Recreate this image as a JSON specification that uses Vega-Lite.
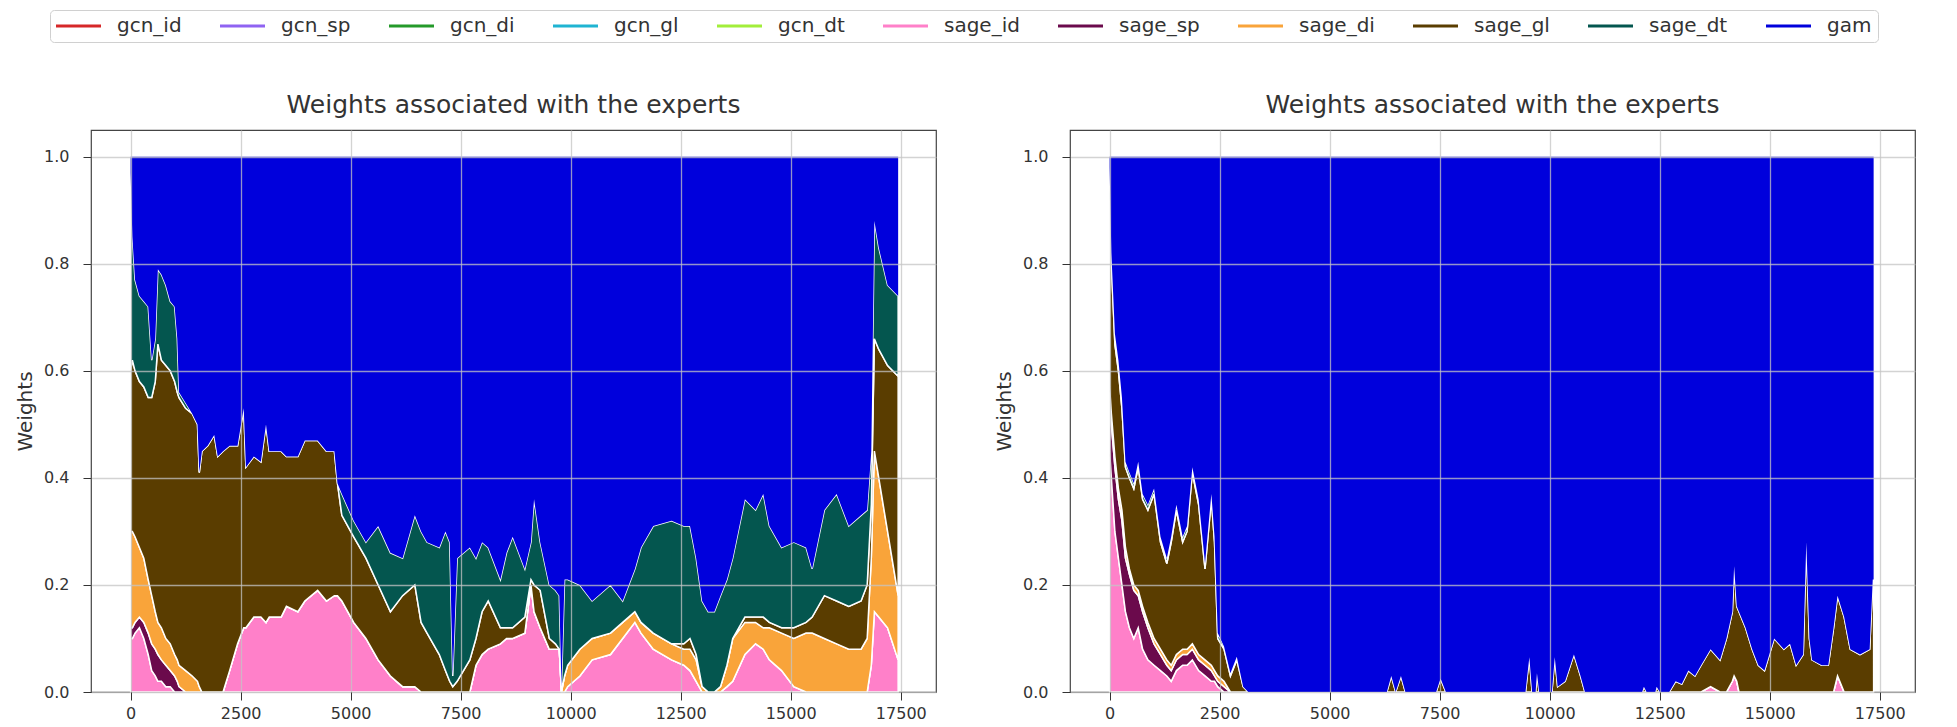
{
 "$schema": "https://vega.github.io/schema/vega-lite/v6.json",
 "padding": {"left": 14, "top": 9, "right": 5, "bottom": 0},
 "bounds": "flush",
 "spacing": 134,
 "config": {
  "view": {"stroke": "#444", "strokeWidth": 1.2},
  "axis": {"labelFont": "DejaVu Sans", "labelFontSize": 16, "labelColor": "#333", "titleFont": "DejaVu Sans", "titleFontSize": 20, "titleFontWeight": "normal", "titleColor": "#333", "tickColor": "#333", "tickSize": 8, "domain": false, "gridColor": "#c4c4c4", "gridOpacity": 0.75, "gridWidth": 1.3},
  "title": {"font": "DejaVu Sans", "fontSize": 25, "fontWeight": "normal", "color": "#333", "anchor": "middle", "offset": 12}
 },
 "datasets": {
  "meta": [
   {"series": "gcn_id", "k": 0}, {"series": "gcn_sp", "k": 1}, {"series": "gcn_di", "k": 2}, {"series": "gcn_gl", "k": 3}, {"series": "gcn_dt", "k": 4},
   {"series": "sage_id", "k": 5}, {"series": "sage_sp", "k": 6}, {"series": "sage_di", "k": 7}, {"series": "sage_gl", "k": 8}, {"series": "sage_dt", "k": 9}, {"series": "gam", "k": 10}
  ],
  "left": [
   {"t":0,"sage_id":0.1,"sage_sp":0.02,"sage_di":0.18,"sage_gl":0.3,"sage_dt":0.37,"gam":0.03},
   {"t":40,"sage_id":0.1,"sage_sp":0.02,"sage_di":0.18,"sage_gl":0.32,"sage_dt":0.23,"gam":0.15},
   {"t":100,"sage_id":0.11,"sage_sp":0.02,"sage_di":0.16,"sage_gl":0.31,"sage_dt":0.17,"gam":0.23},
   {"t":200,"sage_id":0.12,"sage_sp":0.02,"sage_di":0.13,"sage_gl":0.31,"sage_dt":0.16,"gam":0.26},
   {"t":300,"sage_id":0.1,"sage_sp":0.03,"sage_di":0.12,"sage_gl":0.32,"sage_dt":0.16,"gam":0.27},
   {"t":400,"sage_id":0.07,"sage_sp":0.04,"sage_di":0.1,"sage_gl":0.34,"sage_dt":0.17,"gam":0.28},
   {"t":480,"sage_id":0.04,"sage_sp":0.05,"sage_di":0.09,"sage_gl":0.37,"sage_dt":0.07,"gam":0.38},
   {"t":560,"sage_id":0.03,"sage_sp":0.05,"sage_di":0.07,"sage_gl":0.43,"sage_dt":0.08,"gam":0.34},
   {"t":620,"sage_id":0.02,"sage_sp":0.05,"sage_di":0.06,"sage_gl":0.52,"sage_dt":0.14,"gam":0.21},
   {"t":700,"sage_id":0.02,"sage_sp":0.04,"sage_di":0.06,"sage_gl":0.5,"sage_dt":0.16,"gam":0.22},
   {"t":800,"sage_id":0.01,"sage_sp":0.04,"sage_di":0.05,"sage_gl":0.51,"sage_dt":0.15,"gam":0.24},
   {"t":900,"sage_id":0.01,"sage_sp":0.03,"sage_di":0.05,"sage_gl":0.51,"sage_dt":0.13,"gam":0.27},
   {"t":1000,"sage_id":0,"sage_sp":0.03,"sage_di":0.04,"sage_gl":0.51,"sage_dt":0.14,"gam":0.28},
   {"t":1060,"sage_id":0,"sage_sp":0.02,"sage_di":0.04,"sage_gl":0.5,"sage_dt":0.1,"gam":0.34},
   {"t":1100,"sage_id":0,"sage_sp":0.01,"sage_di":0.04,"sage_gl":0.5,"sage_dt":0.01,"gam":0.44},
   {"t":1250,"sage_id":0,"sage_sp":0,"sage_di":0.04,"sage_gl":0.49,"sage_dt":0.01,"gam":0.46},
   {"t":1400,"sage_id":0,"sage_sp":0,"sage_di":0.03,"sage_gl":0.49,"sage_dt":0,"gam":0.48},
   {"t":1520,"sage_id":0,"sage_sp":0,"sage_di":0.02,"sage_gl":0.48,"sage_dt":0,"gam":0.5},
   {"t":1560,"sage_id":0,"sage_sp":0,"sage_di":0.01,"sage_gl":0.4,"sage_dt":0,"gam":0.59},
   {"t":1620,"sage_id":0,"sage_sp":0,"sage_di":0,"sage_gl":0.45,"sage_dt":0,"gam":0.55},
   {"t":1750,"sage_id":0,"sage_sp":0,"sage_di":0,"sage_gl":0.46,"sage_dt":0,"gam":0.54},
   {"t":1900,"sage_id":0,"sage_sp":0,"sage_di":0,"sage_gl":0.48,"sage_dt":0,"gam":0.52},
   {"t":1980,"sage_id":0,"sage_sp":0,"sage_di":0,"sage_gl":0.44,"sage_dt":0,"gam":0.56},
   {"t":2100,"sage_id":0,"sage_sp":0,"sage_di":0,"sage_gl":0.45,"sage_dt":0,"gam":0.55},
   {"t":2250,"sage_id":0.04,"sage_sp":0,"sage_di":0,"sage_gl":0.42,"sage_dt":0,"gam":0.54},
   {"t":2430,"sage_id":0.09,"sage_sp":0,"sage_di":0,"sage_gl":0.37,"sage_dt":0,"gam":0.54},
   {"t":2570,"sage_id":0.12,"sage_sp":0,"sage_di":0,"sage_gl":0.41,"sage_dt":0,"gam":0.47},
   {"t":2620,"sage_id":0.12,"sage_sp":0,"sage_di":0,"sage_gl":0.3,"sage_dt":0,"gam":0.58},
   {"t":2800,"sage_id":0.14,"sage_sp":0,"sage_di":0,"sage_gl":0.3,"sage_dt":0,"gam":0.56},
   {"t":2960,"sage_id":0.14,"sage_sp":0,"sage_di":0,"sage_gl":0.29,"sage_dt":0,"gam":0.57},
   {"t":3076,"sage_id":0.13,"sage_sp":0,"sage_di":0,"sage_gl":0.37,"sage_dt":0,"gam":0.5},
   {"t":3150,"sage_id":0.14,"sage_sp":0,"sage_di":0,"sage_gl":0.31,"sage_dt":0,"gam":0.55},
   {"t":3420,"sage_id":0.14,"sage_sp":0,"sage_di":0,"sage_gl":0.31,"sage_dt":0,"gam":0.55},
   {"t":3540,"sage_id":0.16,"sage_sp":0,"sage_di":0,"sage_gl":0.28,"sage_dt":0,"gam":0.56},
   {"t":3800,"sage_id":0.15,"sage_sp":0,"sage_di":0,"sage_gl":0.29,"sage_dt":0,"gam":0.56},
   {"t":3958,"sage_id":0.17,"sage_sp":0,"sage_di":0,"sage_gl":0.3,"sage_dt":0,"gam":0.53},
   {"t":4250,"sage_id":0.19,"sage_sp":0,"sage_di":0,"sage_gl":0.28,"sage_dt":0,"gam":0.53},
   {"t":4450,"sage_id":0.17,"sage_sp":0,"sage_di":0,"sage_gl":0.28,"sage_dt":0,"gam":0.55},
   {"t":4630,"sage_id":0.18,"sage_sp":0,"sage_di":0,"sage_gl":0.27,"sage_dt":0,"gam":0.55},
   {"t":4700,"sage_id":0.18,"sage_sp":0,"sage_di":0,"sage_gl":0.21,"sage_dt":0,"gam":0.61},
   {"t":4800,"sage_id":0.17,"sage_sp":0,"sage_di":0,"sage_gl":0.16,"sage_dt":0.04,"gam":0.63},
   {"t":5069,"sage_id":0.13,"sage_sp":0,"sage_di":0,"sage_gl":0.16,"sage_dt":0.03,"gam":0.68},
   {"t":5347,"sage_id":0.1,"sage_sp":0,"sage_di":0,"sage_gl":0.15,"sage_dt":0.03,"gam":0.72},
   {"t":5625,"sage_id":0.06,"sage_sp":0,"sage_di":0,"sage_gl":0.14,"sage_dt":0.11,"gam":0.69},
   {"t":5903,"sage_id":0.03,"sage_sp":0,"sage_di":0,"sage_gl":0.12,"sage_dt":0.11,"gam":0.74},
   {"t":6180,"sage_id":0.01,"sage_sp":0,"sage_di":0,"sage_gl":0.17,"sage_dt":0.07,"gam":0.75},
   {"t":6458,"sage_id":0.01,"sage_sp":0,"sage_di":0,"sage_gl":0.19,"sage_dt":0.13,"gam":0.67},
   {"t":6600,"sage_id":0,"sage_sp":0,"sage_di":0,"sage_gl":0.13,"sage_dt":0.17,"gam":0.7},
   {"t":6736,"sage_id":0,"sage_sp":0,"sage_di":0,"sage_gl":0.11,"sage_dt":0.17,"gam":0.72},
   {"t":7014,"sage_id":0,"sage_sp":0,"sage_di":0,"sage_gl":0.07,"sage_dt":0.2,"gam":0.73},
   {"t":7153,"sage_id":0,"sage_sp":0,"sage_di":0,"sage_gl":0.04,"sage_dt":0.26,"gam":0.7},
   {"t":7250,"sage_id":0,"sage_sp":0,"sage_di":0,"sage_gl":0.02,"sage_dt":0.26,"gam":0.72},
   {"t":7320,"sage_id":0,"sage_sp":0,"sage_di":0,"sage_gl":0.01,"sage_dt":0.02,"gam":0.97},
   {"t":7420,"sage_id":0,"sage_sp":0,"sage_di":0,"sage_gl":0.02,"sage_dt":0.23,"gam":0.75},
   {"t":7708,"sage_id":0,"sage_sp":0,"sage_di":0,"sage_gl":0.06,"sage_dt":0.21,"gam":0.73},
   {"t":7847,"sage_id":0.05,"sage_sp":0,"sage_di":0,"sage_gl":0.05,"sage_dt":0.15,"gam":0.75},
   {"t":7986,"sage_id":0.07,"sage_sp":0,"sage_di":0,"sage_gl":0.08,"sage_dt":0.13,"gam":0.72},
   {"t":8125,"sage_id":0.08,"sage_sp":0,"sage_di":0,"sage_gl":0.09,"sage_dt":0.1,"gam":0.73},
   {"t":8403,"sage_id":0.09,"sage_sp":0,"sage_di":0,"sage_gl":0.03,"sage_dt":0.09,"gam":0.79},
   {"t":8542,"sage_id":0.1,"sage_sp":0,"sage_di":0,"sage_gl":0.02,"sage_dt":0.14,"gam":0.74},
   {"t":8681,"sage_id":0.1,"sage_sp":0,"sage_di":0,"sage_gl":0.02,"sage_dt":0.17,"gam":0.71},
   {"t":8958,"sage_id":0.11,"sage_sp":0,"sage_di":0,"sage_gl":0.03,"sage_dt":0.09,"gam":0.77},
   {"t":9097,"sage_id":0.2,"sage_sp":0,"sage_di":0,"sage_gl":0.01,"sage_dt":0.07,"gam":0.72},
   {"t":9167,"sage_id":0.15,"sage_sp":0,"sage_di":0,"sage_gl":0.05,"sage_dt":0.16,"gam":0.64},
   {"t":9306,"sage_id":0.12,"sage_sp":0,"sage_di":0,"sage_gl":0.07,"sage_dt":0.09,"gam":0.72},
   {"t":9514,"sage_id":0.08,"sage_sp":0,"sage_di":0,"sage_gl":0.02,"sage_dt":0.1,"gam":0.8},
   {"t":9653,"sage_id":0.08,"sage_sp":0,"sage_di":0,"sage_gl":0.01,"sage_dt":0.1,"gam":0.81},
   {"t":9740,"sage_id":0.08,"sage_sp":0,"sage_di":0,"sage_gl":0,"sage_dt":0.1,"gam":0.82},
   {"t":9790,"sage_id":0,"sage_sp":0,"sage_di":0,"sage_gl":0,"sage_dt":0.01,"gam":0.99},
   {"t":9860,"sage_id":0,"sage_sp":0,"sage_di":0.03,"sage_gl":0,"sage_dt":0.18,"gam":0.79},
   {"t":9930,"sage_id":0.01,"sage_sp":0,"sage_di":0.04,"sage_gl":0,"sage_dt":0.16,"gam":0.79},
   {"t":10208,"sage_id":0.03,"sage_sp":0,"sage_di":0.05,"sage_gl":0,"sage_dt":0.12,"gam":0.8},
   {"t":10486,"sage_id":0.06,"sage_sp":0,"sage_di":0.04,"sage_gl":0,"sage_dt":0.07,"gam":0.83},
   {"t":10903,"sage_id":0.07,"sage_sp":0,"sage_di":0.04,"sage_gl":0,"sage_dt":0.09,"gam":0.8},
   {"t":11180,"sage_id":0.1,"sage_sp":0,"sage_di":0.03,"sage_gl":0,"sage_dt":0.04,"gam":0.83},
   {"t":11458,"sage_id":0.13,"sage_sp":0,"sage_di":0.02,"sage_gl":0,"sage_dt":0.08,"gam":0.77},
   {"t":11597,"sage_id":0.11,"sage_sp":0,"sage_di":0.02,"sage_gl":0,"sage_dt":0.14,"gam":0.73},
   {"t":11875,"sage_id":0.08,"sage_sp":0,"sage_di":0.03,"sage_gl":0,"sage_dt":0.2,"gam":0.69},
   {"t":12292,"sage_id":0.06,"sage_sp":0,"sage_di":0.03,"sage_gl":0,"sage_dt":0.23,"gam":0.68},
   {"t":12570,"sage_id":0.05,"sage_sp":0,"sage_di":0.03,"sage_gl":0.01,"sage_dt":0.22,"gam":0.69},
   {"t":12710,"sage_id":0.04,"sage_sp":0,"sage_di":0.04,"sage_gl":0.02,"sage_dt":0.21,"gam":0.69},
   {"t":12850,"sage_id":0.02,"sage_sp":0,"sage_di":0.04,"sage_gl":0.01,"sage_dt":0.18,"gam":0.75},
   {"t":12986,"sage_id":0,"sage_sp":0,"sage_di":0.01,"sage_gl":0,"sage_dt":0.16,"gam":0.83},
   {"t":13125,"sage_id":0,"sage_sp":0,"sage_di":0,"sage_gl":0,"sage_dt":0.15,"gam":0.85},
   {"t":13264,"sage_id":0,"sage_sp":0,"sage_di":0,"sage_gl":0,"sage_dt":0.15,"gam":0.85},
   {"t":13403,"sage_id":0,"sage_sp":0,"sage_di":0.01,"sage_gl":0,"sage_dt":0.17,"gam":0.82},
   {"t":13550,"sage_id":0.01,"sage_sp":0,"sage_di":0.04,"sage_gl":0,"sage_dt":0.16,"gam":0.79},
   {"t":13681,"sage_id":0.02,"sage_sp":0,"sage_di":0.08,"sage_gl":0,"sage_dt":0.15,"gam":0.75},
   {"t":13958,"sage_id":0.07,"sage_sp":0,"sage_di":0.06,"sage_gl":0.01,"sage_dt":0.22,"gam":0.64},
   {"t":14200,"sage_id":0.09,"sage_sp":0,"sage_di":0.04,"sage_gl":0.01,"sage_dt":0.2,"gam":0.66},
   {"t":14375,"sage_id":0.08,"sage_sp":0,"sage_di":0.04,"sage_gl":0.02,"sage_dt":0.23,"gam":0.63},
   {"t":14514,"sage_id":0.06,"sage_sp":0,"sage_di":0.06,"sage_gl":0.01,"sage_dt":0.18,"gam":0.69},
   {"t":14792,"sage_id":0.04,"sage_sp":0,"sage_di":0.07,"sage_gl":0.01,"sage_dt":0.15,"gam":0.73},
   {"t":15069,"sage_id":0.01,"sage_sp":0,"sage_di":0.09,"sage_gl":0.02,"sage_dt":0.16,"gam":0.72},
   {"t":15347,"sage_id":0,"sage_sp":0,"sage_di":0.11,"sage_gl":0.02,"sage_dt":0.14,"gam":0.73},
   {"t":15486,"sage_id":0,"sage_sp":0,"sage_di":0.11,"sage_gl":0.03,"sage_dt":0.09,"gam":0.77},
   {"t":15764,"sage_id":0,"sage_sp":0,"sage_di":0.1,"sage_gl":0.08,"sage_dt":0.16,"gam":0.66},
   {"t":16042,"sage_id":0,"sage_sp":0,"sage_di":0.09,"sage_gl":0.08,"sage_dt":0.2,"gam":0.63},
   {"t":16319,"sage_id":0,"sage_sp":0,"sage_di":0.08,"sage_gl":0.08,"sage_dt":0.15,"gam":0.69},
   {"t":16597,"sage_id":0,"sage_sp":0,"sage_di":0.08,"sage_gl":0.09,"sage_dt":0.16,"gam":0.67},
   {"t":16736,"sage_id":0,"sage_sp":0,"sage_di":0.1,"sage_gl":0.1,"sage_dt":0.14,"gam":0.66},
   {"t":16830,"sage_id":0.05,"sage_sp":0,"sage_di":0.2,"sage_gl":0.1,"sage_dt":0.1,"gam":0.55},
   {"t":16900,"sage_id":0.15,"sage_sp":0,"sage_di":0.3,"sage_gl":0.21,"sage_dt":0.22,"gam":0.12},
   {"t":17000,"sage_id":0.14,"sage_sp":0,"sage_di":0.26,"sage_gl":0.24,"sage_dt":0.19,"gam":0.17},
   {"t":17200,"sage_id":0.12,"sage_sp":0,"sage_di":0.18,"sage_gl":0.31,"sage_dt":0.15,"gam":0.24},
   {"t":17440,"sage_id":0.06,"sage_sp":0,"sage_di":0.12,"sage_gl":0.41,"sage_dt":0.15,"gam":0.26}
  ],
  "right": [
   {"t":0,"sage_id":0.45,"sage_sp":0.1,"sage_di":0.02,"sage_gl":0.38,"sage_dt":0.03,"gam":0.02},
   {"t":40,"sage_id":0.4,"sage_sp":0.1,"sage_di":0.02,"sage_gl":0.28,"sage_dt":0.02,"gam":0.18},
   {"t":120,"sage_id":0.3,"sage_sp":0.12,"sage_di":0.02,"sage_gl":0.21,"sage_dt":0.02,"gam":0.33},
   {"t":200,"sage_id":0.25,"sage_sp":0.11,"sage_di":0.02,"sage_gl":0.22,"sage_dt":0.02,"gam":0.38},
   {"t":280,"sage_id":0.2,"sage_sp":0.12,"sage_di":0.02,"sage_gl":0.19,"sage_dt":0.02,"gam":0.45},
   {"t":360,"sage_id":0.15,"sage_sp":0.1,"sage_di":0.02,"sage_gl":0.15,"sage_dt":0.01,"gam":0.57},
   {"t":450,"sage_id":0.12,"sage_sp":0.1,"sage_di":0.01,"sage_gl":0.17,"sage_dt":0.01,"gam":0.59},
   {"t":550,"sage_id":0.1,"sage_sp":0.09,"sage_di":0.01,"sage_gl":0.18,"sage_dt":0.01,"gam":0.61},
   {"t":650,"sage_id":0.12,"sage_sp":0.06,"sage_di":0.01,"sage_gl":0.23,"sage_dt":0.01,"gam":0.57},
   {"t":750,"sage_id":0.08,"sage_sp":0.07,"sage_di":0.01,"sage_gl":0.2,"sage_dt":0.01,"gam":0.63},
   {"t":870,"sage_id":0.06,"sage_sp":0.06,"sage_di":0.01,"sage_gl":0.21,"sage_dt":0.01,"gam":0.65},
   {"t":1010,"sage_id":0.05,"sage_sp":0.04,"sage_di":0.01,"sage_gl":0.27,"sage_dt":0.01,"gam":0.62},
   {"t":1156,"sage_id":0.04,"sage_sp":0.03,"sage_di":0.01,"sage_gl":0.2,"sage_dt":0.01,"gam":0.71},
   {"t":1300,"sage_id":0.03,"sage_sp":0.02,"sage_di":0.01,"sage_gl":0.18,"sage_dt":0.01,"gam":0.75},
   {"t":1400,"sage_id":0.02,"sage_sp":0.02,"sage_di":0.01,"sage_gl":0.23,"sage_dt":0.01,"gam":0.71},
   {"t":1517,"sage_id":0.04,"sage_sp":0.02,"sage_di":0.01,"sage_gl":0.27,"sage_dt":0.01,"gam":0.65},
   {"t":1660,"sage_id":0.05,"sage_sp":0.02,"sage_di":0.01,"sage_gl":0.2,"sage_dt":0.01,"gam":0.71},
   {"t":1760,"sage_id":0.05,"sage_sp":0.02,"sage_di":0.01,"sage_gl":0.22,"sage_dt":0.01,"gam":0.69},
   {"t":1880,"sage_id":0.06,"sage_sp":0.02,"sage_di":0.01,"sage_gl":0.32,"sage_dt":0.01,"gam":0.58},
   {"t":2023,"sage_id":0.04,"sage_sp":0.02,"sage_di":0.01,"sage_gl":0.28,"sage_dt":0.01,"gam":0.64},
   {"t":2168,"sage_id":0.03,"sage_sp":0.02,"sage_di":0.01,"sage_gl":0.17,"sage_dt":0.01,"gam":0.76},
   {"t":2312,"sage_id":0.02,"sage_sp":0.02,"sage_di":0.01,"sage_gl":0.31,"sage_dt":0.01,"gam":0.63},
   {"t":2384,"sage_id":0.02,"sage_sp":0.01,"sage_di":0.01,"sage_gl":0.24,"sage_dt":0.01,"gam":0.71},
   {"t":2457,"sage_id":0.01,"sage_sp":0.01,"sage_di":0.01,"sage_gl":0.07,"sage_dt":0.01,"gam":0.89},
   {"t":2600,"sage_id":0,"sage_sp":0.01,"sage_di":0.01,"sage_gl":0.06,"sage_dt":0.005,"gam":0.915},
   {"t":2745,"sage_id":0,"sage_sp":0,"sage_di":0,"sage_gl":0.03,"sage_dt":0.005,"gam":0.965},
   {"t":2890,"sage_id":0,"sage_sp":0,"sage_di":0,"sage_gl":0.06,"sage_dt":0.006,"gam":0.934},
   {"t":3034,"sage_id":0,"sage_sp":0,"sage_di":0,"sage_gl":0.01,"sage_dt":0,"gam":0.99},
   {"t":3150,"sage_id":0,"sage_sp":0,"sage_di":0,"sage_gl":0,"sage_dt":0,"gam":1},
   {"t":6300,"sage_id":0,"sage_sp":0,"sage_di":0,"sage_gl":0,"sage_dt":0,"gam":1},
   {"t":6400,"sage_id":0,"sage_sp":0,"sage_di":0,"sage_gl":0.03,"sage_dt":0,"gam":0.97},
   {"t":6500,"sage_id":0,"sage_sp":0,"sage_di":0,"sage_gl":0,"sage_dt":0,"gam":1},
   {"t":6620,"sage_id":0,"sage_sp":0,"sage_di":0,"sage_gl":0.03,"sage_dt":0,"gam":0.97},
   {"t":6720,"sage_id":0,"sage_sp":0,"sage_di":0,"sage_gl":0,"sage_dt":0,"gam":1},
   {"t":7420,"sage_id":0,"sage_sp":0,"sage_di":0,"sage_gl":0,"sage_dt":0,"gam":1},
   {"t":7520,"sage_id":0,"sage_sp":0,"sage_di":0,"sage_gl":0.025,"sage_dt":0,"gam":0.975},
   {"t":7640,"sage_id":0,"sage_sp":0,"sage_di":0,"sage_gl":0,"sage_dt":0,"gam":1},
   {"t":9450,"sage_id":0,"sage_sp":0,"sage_di":0,"sage_gl":0,"sage_dt":0,"gam":1},
   {"t":9537,"sage_id":0,"sage_sp":0,"sage_di":0,"sage_gl":0.065,"sage_dt":0,"gam":0.935},
   {"t":9600,"sage_id":0,"sage_sp":0,"sage_di":0,"sage_gl":0,"sage_dt":0,"gam":1},
   {"t":9680,"sage_id":0,"sage_sp":0,"sage_di":0,"sage_gl":0,"sage_dt":0,"gam":1},
   {"t":9710,"sage_id":0,"sage_sp":0,"sage_di":0,"sage_gl":0.035,"sage_dt":0,"gam":0.965},
   {"t":9760,"sage_id":0,"sage_sp":0,"sage_di":0,"sage_gl":0,"sage_dt":0,"gam":1},
   {"t":10050,"sage_id":0,"sage_sp":0,"sage_di":0,"sage_gl":0,"sage_dt":0,"gam":1},
   {"t":10115,"sage_id":0,"sage_sp":0,"sage_di":0,"sage_gl":0.065,"sage_dt":0,"gam":0.935},
   {"t":10180,"sage_id":0,"sage_sp":0,"sage_di":0,"sage_gl":0.01,"sage_dt":0,"gam":0.99},
   {"t":10350,"sage_id":0,"sage_sp":0,"sage_di":0,"sage_gl":0.02,"sage_dt":0,"gam":0.98},
   {"t":10550,"sage_id":0,"sage_sp":0,"sage_di":0,"sage_gl":0.07,"sage_dt":0,"gam":0.93},
   {"t":10700,"sage_id":0,"sage_sp":0,"sage_di":0,"sage_gl":0.03,"sage_dt":0,"gam":0.97},
   {"t":10800,"sage_id":0,"sage_sp":0,"sage_di":0,"sage_gl":0,"sage_dt":0,"gam":1},
   {"t":12100,"sage_id":0,"sage_sp":0,"sage_di":0,"sage_gl":0,"sage_dt":0,"gam":1},
   {"t":12140,"sage_id":0,"sage_sp":0,"sage_di":0,"sage_gl":0.01,"sage_dt":0,"gam":0.99},
   {"t":12200,"sage_id":0,"sage_sp":0,"sage_di":0,"sage_gl":0,"sage_dt":0,"gam":1},
   {"t":12400,"sage_id":0,"sage_sp":0,"sage_di":0,"sage_gl":0,"sage_dt":0,"gam":1},
   {"t":12430,"sage_id":0,"sage_sp":0,"sage_di":0,"sage_gl":0.01,"sage_dt":0,"gam":0.99},
   {"t":12500,"sage_id":0,"sage_sp":0,"sage_di":0,"sage_gl":0,"sage_dt":0,"gam":1},
   {"t":12716,"sage_id":0,"sage_sp":0,"sage_di":0,"sage_gl":0,"sage_dt":0,"gam":1},
   {"t":12860,"sage_id":0,"sage_sp":0,"sage_di":0,"sage_gl":0.02,"sage_dt":0,"gam":0.98},
   {"t":13000,"sage_id":0,"sage_sp":0,"sage_di":0,"sage_gl":0.015,"sage_dt":0,"gam":0.985},
   {"t":13150,"sage_id":0,"sage_sp":0,"sage_di":0,"sage_gl":0.04,"sage_dt":0,"gam":0.96},
   {"t":13300,"sage_id":0,"sage_sp":0,"sage_di":0,"sage_gl":0.03,"sage_dt":0,"gam":0.97},
   {"t":13440,"sage_id":0,"sage_sp":0,"sage_di":0,"sage_gl":0.05,"sage_dt":0,"gam":0.95},
   {"t":13655,"sage_id":0.01,"sage_sp":0,"sage_di":0,"sage_gl":0.07,"sage_dt":0,"gam":0.92},
   {"t":13870,"sage_id":0,"sage_sp":0,"sage_di":0,"sage_gl":0.06,"sage_dt":0,"gam":0.94},
   {"t":14016,"sage_id":0,"sage_sp":0,"sage_di":0,"sage_gl":0.1,"sage_dt":0,"gam":0.9},
   {"t":14150,"sage_id":0.02,"sage_sp":0,"sage_di":0,"sage_gl":0.13,"sage_dt":0,"gam":0.85},
   {"t":14190,"sage_id":0.03,"sage_sp":0,"sage_di":0,"sage_gl":0.205,"sage_dt":0,"gam":0.765},
   {"t":14250,"sage_id":0.02,"sage_sp":0,"sage_di":0,"sage_gl":0.14,"sage_dt":0,"gam":0.84},
   {"t":14300,"sage_id":0,"sage_sp":0,"sage_di":0,"sage_gl":0.15,"sage_dt":0,"gam":0.85},
   {"t":14450,"sage_id":0,"sage_sp":0,"sage_di":0,"sage_gl":0.12,"sage_dt":0,"gam":0.88},
   {"t":14600,"sage_id":0,"sage_sp":0,"sage_di":0,"sage_gl":0.08,"sage_dt":0,"gam":0.92},
   {"t":14740,"sage_id":0,"sage_sp":0,"sage_di":0,"sage_gl":0.05,"sage_dt":0,"gam":0.95},
   {"t":14880,"sage_id":0,"sage_sp":0,"sage_di":0,"sage_gl":0.04,"sage_dt":0,"gam":0.96},
   {"t":15100,"sage_id":0,"sage_sp":0,"sage_di":0,"sage_gl":0.1,"sage_dt":0,"gam":0.9},
   {"t":15320,"sage_id":0,"sage_sp":0,"sage_di":0,"sage_gl":0.08,"sage_dt":0,"gam":0.92},
   {"t":15460,"sage_id":0,"sage_sp":0,"sage_di":0,"sage_gl":0.09,"sage_dt":0,"gam":0.91},
   {"t":15600,"sage_id":0,"sage_sp":0,"sage_di":0,"sage_gl":0.05,"sage_dt":0,"gam":0.95},
   {"t":15760,"sage_id":0,"sage_sp":0,"sage_di":0,"sage_gl":0.07,"sage_dt":0,"gam":0.93},
   {"t":15830,"sage_id":0,"sage_sp":0,"sage_di":0,"sage_gl":0.28,"sage_dt":0,"gam":0.72},
   {"t":15900,"sage_id":0,"sage_sp":0,"sage_di":0,"sage_gl":0.1,"sage_dt":0,"gam":0.9},
   {"t":15960,"sage_id":0,"sage_sp":0,"sage_di":0,"sage_gl":0.06,"sage_dt":0,"gam":0.94},
   {"t":16180,"sage_id":0,"sage_sp":0,"sage_di":0,"sage_gl":0.05,"sage_dt":0,"gam":0.95},
   {"t":16330,"sage_id":0,"sage_sp":0,"sage_di":0,"sage_gl":0.05,"sage_dt":0,"gam":0.95},
   {"t":16450,"sage_id":0,"sage_sp":0,"sage_di":0,"sage_gl":0.12,"sage_dt":0,"gam":0.88},
   {"t":16540,"sage_id":0.03,"sage_sp":0,"sage_di":0,"sage_gl":0.15,"sage_dt":0,"gam":0.82},
   {"t":16690,"sage_id":0,"sage_sp":0,"sage_di":0,"sage_gl":0.14,"sage_dt":0,"gam":0.86},
   {"t":16830,"sage_id":0,"sage_sp":0,"sage_di":0,"sage_gl":0.08,"sage_dt":0,"gam":0.92},
   {"t":17050,"sage_id":0,"sage_sp":0,"sage_di":0,"sage_gl":0.07,"sage_dt":0,"gam":0.93},
   {"t":17270,"sage_id":0,"sage_sp":0,"sage_di":0,"sage_gl":0.08,"sage_dt":0,"gam":0.92},
   {"t":17340,"sage_id":0,"sage_sp":0,"sage_di":0,"sage_gl":0.21,"sage_dt":0,"gam":0.79},
   {"t":17360,"sage_id":0,"sage_sp":0,"sage_di":0,"sage_gl":0.21,"sage_dt":0,"gam":0.79}
  ]
 },
 "hconcat": [
  {
   "width": 845, "height": 562,
   "title": "Weights associated with the experts",
   "data": {"name": "left"},
   "transform": [
    {"fold": ["sage_id", "sage_sp", "sage_di", "sage_gl", "sage_dt", "gam"], "as": ["series", "w"]},
    {"lookup": "series", "from": {"data": {"name": "meta"}, "key": "series", "fields": ["k"]}}
   ],
   "mark": {"type": "area", "interpolate": "linear", "strokeWidth": 1.5},
   "encoding": {
    "x": {"field": "t", "type": "quantitative", "scale": {"domain": [-900, 18300], "nice": false, "zero": false},
          "axis": {"title": null, "values": [0, 2500, 5000, 7500, 10000, 12500, 15000, 17500], "format": "d", "labelFlush": false, "labelPadding": 5, "zindex": 1}},
    "y": {"field": "w", "type": "quantitative", "stack": "zero", "scale": {"domain": [0, 1.05], "nice": false},
          "axis": {"title": "Weights", "values": [0, 0.2, 0.4, 0.6, 0.8, 1.0], "format": ".1f", "labelPadding": 14, "titlePadding": 8, "zindex": 1}},
    "color": {"field": "series", "type": "nominal",
      "scale": {"domain": ["gcn_id", "gcn_sp", "gcn_di", "gcn_gl", "gcn_dt", "sage_id", "sage_sp", "sage_di", "sage_gl", "sage_dt", "gam"],
                "range": ["#d62728", "#8f63f2", "#249a2a", "#1fb4d2", "#a2ee3a", "#ff80c9", "#6b0a4c", "#f9a43a", "#5a3d00", "#04564f", "#0000dc"]},
      "legend": {"orient": "none", "legendX": -41, "legendY": -120, "direction": "horizontal", "columns": 11, "title": null,
                 "symbolType": "M-1,-0.15H3.5V0.15H-1Z", "symbolSize": 400, "symbolStrokeWidth": 0, "symbolOpacity": 1, "labelFont": "DejaVu Sans", "labelFontSize": 20, "labelColor": "#333",
                 "labelOffset": 41, "columnPadding": 38, "padding": 6, "strokeColor": "#d0d0d0", "cornerRadius": 4, "fillColor": "white"}},
    "stroke": {"condition": {"test": "datum.series === 'gam'", "value": null}, "value": "white"},
    "order": {"field": "k", "type": "quantitative"}
   }
  },
  {
   "width": 845, "height": 562,
   "title": "Weights associated with the experts",
   "data": {"name": "right"},
   "transform": [
    {"fold": ["sage_id", "sage_sp", "sage_di", "sage_gl", "sage_dt", "gam"], "as": ["series", "w"]},
    {"lookup": "series", "from": {"data": {"name": "meta"}, "key": "series", "fields": ["k"]}}
   ],
   "mark": {"type": "area", "interpolate": "linear", "strokeWidth": 1.5},
   "encoding": {
    "x": {"field": "t", "type": "quantitative", "scale": {"domain": [-900, 18300], "nice": false, "zero": false},
          "axis": {"title": null, "values": [0, 2500, 5000, 7500, 10000, 12500, 15000, 17500], "format": "d", "labelFlush": false, "labelPadding": 5, "zindex": 1}},
    "y": {"field": "w", "type": "quantitative", "stack": "zero", "scale": {"domain": [0, 1.05], "nice": false},
          "axis": {"title": "Weights", "values": [0, 0.2, 0.4, 0.6, 0.8, 1.0], "format": ".1f", "labelPadding": 14, "titlePadding": 8, "zindex": 1}},
    "color": {"field": "series", "type": "nominal",
      "scale": {"domain": ["gcn_id", "gcn_sp", "gcn_di", "gcn_gl", "gcn_dt", "sage_id", "sage_sp", "sage_di", "sage_gl", "sage_dt", "gam"],
                "range": ["#d62728", "#8f63f2", "#249a2a", "#1fb4d2", "#a2ee3a", "#ff80c9", "#6b0a4c", "#f9a43a", "#5a3d00", "#04564f", "#0000dc"]}},
    "stroke": {"condition": {"test": "datum.series === 'gam'", "value": null}, "value": "white"},
    "order": {"field": "k", "type": "quantitative"}
   }
  }
 ]
}
